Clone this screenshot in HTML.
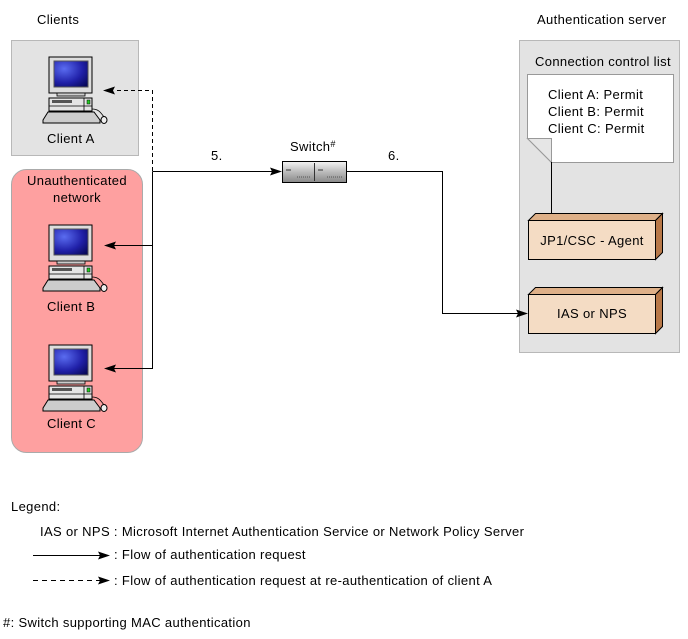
<!DOCTYPE html>
<html><head><meta charset="utf-8"><style>
body{margin:0;background:#fff}
svg{display:block}
text{font-family:"Liberation Sans",Arial,sans-serif;font-size:13px;letter-spacing:0.35px;fill:#000}
</style></head><body>
<svg width="688" height="639" viewBox="0 0 688 639" xmlns="http://www.w3.org/2000/svg">
<defs>
<radialGradient id="scr" cx="0.3" cy="0.3" r="0.9">
<stop offset="0" stop-color="#5a6cf0"/><stop offset="0.6" stop-color="#2020a8"/><stop offset="1" stop-color="#08085a"/>
</radialGradient>
<linearGradient id="sw" x1="0" y1="0" x2="0" y2="1">
<stop offset="0" stop-color="#f4f4f4"/><stop offset="0.5" stop-color="#bbb"/><stop offset="1" stop-color="#888"/>
</linearGradient>
<g id="pc">
<rect x="0" y="0" width="43" height="36" fill="#ddd" stroke="#000"/>
<rect x="5" y="4" width="34" height="26" fill="url(#scr)" stroke="#555"/>
<rect x="8" y="36" width="28" height="3" fill="#ccc" stroke="#000" stroke-width="0.8"/>
<rect x="0" y="41" width="43" height="13" fill="#e4e4e4" stroke="#000"/>
<line x1="0" y1="49" x2="43" y2="49" stroke="#000" stroke-width="0.8"/>
<rect x="3" y="43" width="20" height="3" fill="#555"/>
<rect x="38" y="43" width="3" height="4" fill="#2c2" stroke="#000" stroke-width="0.5"/>
<line x1="35" y1="41" x2="35" y2="54" stroke="#000" stroke-width="0.8"/>
<polygon points="-1,55 45,55 51,63 51,66 -6,66 -6,63" fill="#ccc" stroke="#000"/>
<path d="M43,52 C50,52 52,56 55,60" fill="none" stroke="#000" stroke-width="0.8"/>
<ellipse cx="55" cy="63" rx="3" ry="3.5" fill="#eee" stroke="#000"/>
</g>
</defs>

<text x="37" y="24">Clients</text>
<text x="537" y="24">Authentication server</text>

<rect x="11.5" y="40.5" width="127" height="115" fill="#e3e3e3" stroke="#b8b8b8"/>
<use href="#pc" x="49" y="57"/>
<text x="47" y="143">Client A</text>

<rect x="11.5" y="169.5" width="131" height="283" rx="15" fill="#fea0a0" stroke="#aaa"/>
<text x="77" y="185" text-anchor="middle">Unauthenticated</text>
<text x="77" y="202" text-anchor="middle">network</text>
<use href="#pc" x="49" y="225"/>
<text x="47" y="311">Client B</text>
<use href="#pc" x="49" y="345"/>
<text x="47" y="428">Client C</text>

<rect x="519.5" y="40.5" width="160" height="312" fill="#e3e3e3" stroke="#b8b8b8"/>
<text x="535" y="66">Connection control list</text>
<polygon points="527.5,74.5 673.5,74.5 673.5,162.5 551.5,162.5 527.5,138.5" fill="#fff" stroke="#999"/>
<polygon points="527.5,138.5 551.5,138.5 551.5,162.5" fill="#e6e6e6" stroke="#999"/>
<text x="548" y="99">Client A: Permit</text>
<text x="548" y="116">Client B: Permit</text>
<text x="548" y="133">Client C: Permit</text>
<line x1="551.5" y1="162" x2="551.5" y2="221" stroke="#000"/>

<polygon points="528.5,220.5 535.5,213.5 662.5,213.5 655.5,220.5" fill="#deb088" stroke="#000"/>
<polygon points="655.5,220.5 662.5,213.5 662.5,252.5 655.5,259.5" fill="#b87848" stroke="#000"/>
<rect x="528.5" y="220.5" width="127" height="39" fill="#f4dcc4" stroke="#000"/>
<text x="592" y="245" text-anchor="middle">JP1/CSC - Agent</text>

<polygon points="528.5,294.5 535.5,287.5 662.5,287.5 655.5,294.5" fill="#deb088" stroke="#000"/>
<polygon points="655.5,294.5 662.5,287.5 662.5,326.5 655.5,333.5" fill="#b87848" stroke="#000"/>
<rect x="528.5" y="294.5" width="127" height="39" fill="#f4dcc4" stroke="#000"/>
<text x="592" y="318" text-anchor="middle">IAS or NPS</text>

<text x="290" y="151">Switch<tspan font-size="9" dy="-4">#</tspan></text>
<rect x="282.5" y="161.5" width="64" height="21" fill="url(#sw)" stroke="#000"/>
<line x1="314.5" y1="163" x2="314.5" y2="181" stroke="#333"/>
<line x1="286" y1="170" x2="291" y2="170" stroke="#333"/>
<line x1="318" y1="170" x2="323" y2="170" stroke="#333"/>
<line x1="297" y1="177" x2="310" y2="177" stroke="#555" stroke-dasharray="1,1"/>
<line x1="327" y1="177" x2="342" y2="177" stroke="#555" stroke-dasharray="1,1"/>
<text x="211" y="160">5.</text>
<text x="388" y="160">6.</text>

<g stroke="#000" fill="none">
<path d="M152.5,171.5 H272"/>
<path d="M152.5,171.5 V368.5 H114"/>
<path d="M152.5,245.5 H114"/>
<path d="M346,171.5 H442.5 V313.5 H518"/>
<path d="M152.5,171 V90.5 H114" stroke-dasharray="4,3"/>
</g>
<g fill="#000">
<polygon points="282,171.5 270,167.5 272,171.5 270,175.5"/>
<polygon points="103,90.5 115,86.5 113,90.5 115,94.5"/>
<polygon points="104,245.5 116,241.5 114,245.5 116,249.5"/>
<polygon points="104,368.5 116,364.5 114,368.5 116,372.5"/>
<polygon points="528,313.5 516,309.5 518,313.5 516,317.5"/>
</g>

<text x="11" y="511">Legend:</text>
<text x="40" y="536">IAS or NPS : Microsoft Internet Authentication Service or Network Policy Server</text>
<line x1="33" y1="555.5" x2="100" y2="555.5" stroke="#000"/>
<polygon points="110,555.5 98,551.5 100,555.5 98,559.5" fill="#000"/>
<text x="114" y="559">: Flow of authentication request</text>
<line x1="33" y1="580.5" x2="100" y2="580.5" stroke="#000" stroke-dasharray="5,4"/>
<polygon points="110,580.5 98,576.5 100,580.5 98,584.5" fill="#000"/>
<text x="114" y="585">: Flow of authentication request at re-authentication of client A</text>
<text x="3" y="627">#: Switch supporting MAC authentication</text>
</svg>
</body></html>
